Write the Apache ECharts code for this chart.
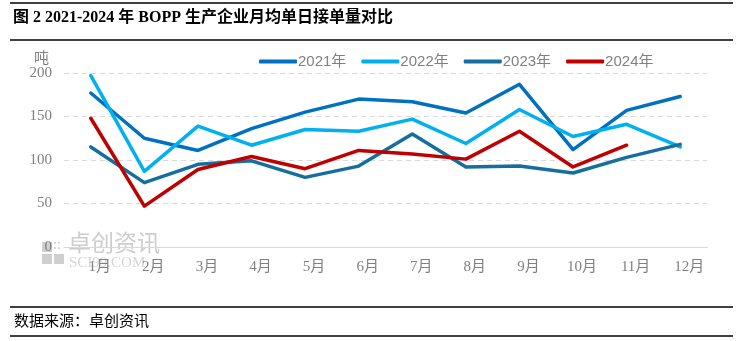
<!DOCTYPE html>
<html><head><meta charset="utf-8">
<script src="https://cdn.jsdelivr.net/npm/echarts@6/dist/echarts.min.js"></script>
<style>html,body{margin:0;padding:0;background:#fff}#c{width:740px;height:341px}</style>
</head><body><div id="c"></div>
<script>
var months = ['1月','2月','3月','4月','5月','6月','7月','8月','9月','10月','11月','12月'];
var yTicks = [0, 50, 100, 150, 200];
var s2021 = [177, 125, 111, 136, 155, 170, 167, 154, 187, 112, 157, 173];
var s2022 = [197, 87, 139, 117, 135, 133, 147, 119, 158, 127, 141, 115];
var s2023 = [115, 74, 95, 99, 80, 93, 130, 92, 93, 85, 103, 118];
var s2024 = [148, 47, 89, 104, 90, 111, 107, 101, 133, 92, 117, null];
var names = ['2021年','2022年','2023年','2024年'];
var colors = ['#0070C0','#00B0F0','#156E9E','#C00000'];
var allData = [s2021, s2022, s2023, s2024];

var chart = echarts.init(document.getElementById('c'));
var serif = "'Liberation Serif','Noto Sans CJK SC',serif";
chart.setOption({
  animation: false,
  backgroundColor: '#fff',
  grid: {left: 64, right: 33, top: 73, bottom: 94},
  legend: {
    top: 49, left: 254, itemGap: 15, itemWidth: 38, itemHeight: 4,
    icon: 'roundRect',
    textStyle: {color: '#808080', fontSize: 15, fontFamily: "'Liberation Sans','Noto Sans CJK SC',sans-serif", padding: [0,0,0,-4]},
    data: names
  },
  xAxis: {
    type: 'category', data: months, boundaryGap: true,
    axisLine: {lineStyle: {color: '#d9d9d9', width: 1}},
    axisTick: {show: false},
    axisLabel: {color: '#808080', fontSize: 15, fontFamily: serif, margin: 13, padding: [0,0,0,18], interval: 0}
  },
  yAxis: {
    type: 'value', min: yTicks[0], max: yTicks[yTicks.length-1], interval: 50,
    axisLine: {show: false}, axisTick: {show: false},
    axisLabel: {color: '#808080', fontSize: 15, fontFamily: serif, margin: 12},
    splitLine: {lineStyle: {color: '#d9d9d9', type: [5,4], width: 1}}
  },
  series: names.map(function(n, i){
    return {name: n, type: 'line', data: allData[i], symbol: 'none', z: 5 + i,
      lineStyle: {color: colors[i], width: 3.5, cap: 'round', join: 'round'},
      itemStyle: {color: colors[i]}};
  }),
  graphic: [
    {type: 'line', shape: {x1: 10, y1: 3, x2: 733, y2: 3}, style: {stroke: '#000', lineWidth: 1.5}},
    {type: 'line', shape: {x1: 10, y1: 40, x2: 733, y2: 40}, style: {stroke: '#000', lineWidth: 1.5}},
    {type: 'text', left: 13, top: 10, style: {text: '图 2 2021-2024 年 BOPP 生产企业月均单日接单量对比', fill: '#000', font: "bold 16px 'Liberation Serif','Noto Sans CJK SC',serif"}},
    {type: 'text', left: 34, top: 50, style: {text: '吨', fill: '#808080', font: "15px 'Noto Sans CJK SC',sans-serif"}},
    {type: 'rect', shape: {x: 42, y: 242, width: 10, height: 10}, style: {fill: '#cfcfcf'}, z: -1},
    {type: 'rect', shape: {x: 42, y: 254, width: 10, height: 10}, style: {fill: '#cfcfcf'}, z: -1},
    {type: 'rect', shape: {x: 54, y: 254, width: 10, height: 10}, style: {fill: '#cfcfcf'}, z: -1},
    {type: 'text', left: 53, top: 240, style: {text: '::', fill: '#cfcfcf', font: "bold 12px 'Liberation Sans',sans-serif"}, z: -1},
    {type: 'text', left: 68, top: 231, style: {text: '卓创资讯', fill: '#cdcdcd', font: "23px 'Noto Sans CJK SC',sans-serif"}, z: -1},
    {type: 'text', left: 69, top: 256, style: {text: 'SCI99.COM', fill: '#d5d5d5', font: "15px 'Liberation Serif',serif"}, z: -1},
    {type: 'line', shape: {x1: 10, y1: 307, x2: 733, y2: 307}, style: {stroke: '#000', lineWidth: 1.5}},
    {type: 'text', left: 14, top: 313, style: {text: '数据来源：卓创资讯', fill: '#000', font: "15px 'Noto Sans CJK SC',sans-serif"}},
    {type: 'line', shape: {x1: 10, y1: 336, x2: 733, y2: 336}, style: {stroke: '#000', lineWidth: 1.5}}
  ]
});
</script></body></html>
